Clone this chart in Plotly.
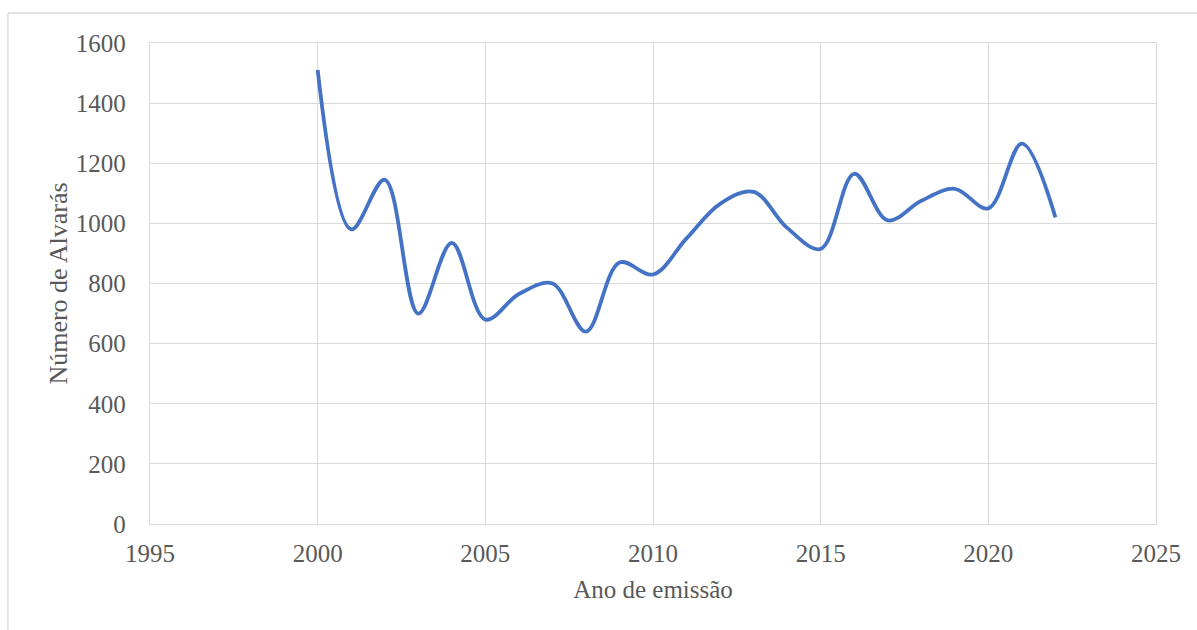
import plotly.graph_objects as go

# Alvarás issued per year
anos = list(range(2000, 2023))
alvaras = [1510, 980, 1145, 700, 935, 680, 765, 800, 640, 870, 830, 950,
           1065, 1105, 985, 915, 1165, 1010, 1075, 1115, 1050, 1265, 1020]

x_ticks = [1995, 2000, 2005, 2010, 2015, 2020, 2025]
y_ticks = [0, 200, 400, 600, 800, 1000, 1200, 1400, 1600]

FONT = "Liberation Serif, Times New Roman, serif"
TEXT = "#595959"
GRID = "#d9d9d9"
SIZE = 25

fig = go.Figure()
fig.add_trace(go.Scatter(
    x=anos, y=alvaras, mode="lines",
    line=dict(color="#4472C4", width=3.8, shape="spline", smoothing=1.0),
    hoverinfo="x+y", showlegend=False,
))

axis_common = dict(
    showgrid=True, gridcolor=GRID, gridwidth=1.4,
    showline=True, linecolor=GRID, linewidth=1.4, mirror=True,
    zeroline=False, ticks="",
    tickfont=dict(family=FONT, size=SIZE, color=TEXT),
)

fig.update_xaxes(
    range=[1995, 2025], tickvals=x_ticks, ticktext=[str(v) for v in x_ticks],
    title=dict(text="Ano de emissão", font=dict(family=FONT, size=SIZE, color=TEXT), standoff=14),
    ticklabelstandoff=7,
    **axis_common,
)
fig.update_yaxes(
    range=[0, 1600], tickvals=y_ticks, ticktext=[str(v) for v in y_ticks],
    title=dict(text="Número de Alvarás", font=dict(family=FONT, size=26, color=TEXT), standoff=0),
    ticklabelstandoff=18,
    **axis_common,
)

# chart-area frame (top and left edges)
fig.add_shape(type="line", xref="paper", yref="paper",
              x0=-0.1412, x1=1.2, y0=1.0624, y1=1.0624,
              line=dict(color=GRID, width=1.3))
fig.add_shape(type="line", xref="paper", yref="paper",
              x0=-0.1412, x1=-0.1412, y0=1.0624, y1=-0.4,
              line=dict(color=GRID, width=1.3))

fig.update_layout(
    width=1197, height=630,
    margin=dict(l=150, r=41, t=43, b=106),
    paper_bgcolor="white", plot_bgcolor="white",
    font=dict(family=FONT, color=TEXT),
)

fig.write_html("out.html")
